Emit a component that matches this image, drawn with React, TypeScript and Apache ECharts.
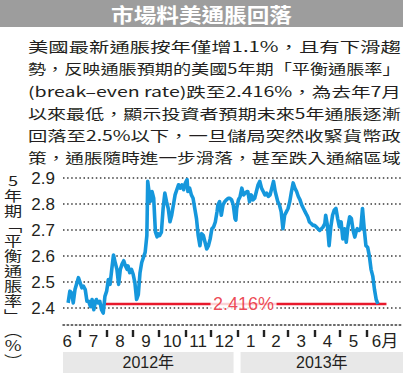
import React, { useEffect, useRef } from 'react';
import * as echarts from 'echarts';

const titleText = '市場料美通脹回落';
const bodyLines = [
  '美國最新通脹按年僅增1.1%，且有下滑趨',
  '勢，反映通脹預期的美國5年期「平衡通脹率」',
  '(break–even rate)跌至2.416%，為去年7月',
  '以來最低，顯示投資者預期未來5年通脹逐漸',
  '回落至2.5%以下，一旦儲局突然收緊貨幣政',
  '策，通脹隨時進一步滑落，甚至跌入通縮區域',
];
const yAxisTitle = ['5', '年', '期', '﹁', '平', '衡', '通', '脹', '率', '﹂', '︵', '%', '︶'];
const yTicks = [2.4, 2.5, 2.6, 2.7, 2.8, 2.9];
const monthLabels = ['6', '7', '8', '9', '10', '11', '12', '1', '2', '3', '4', '5', '6月'];
const monthStarts = [
  '2012-06-01', '2012-07-01', '2012-08-01', '2012-09-01', '2012-10-01', '2012-11-01', '2012-12-01',
  '2013-01-01', '2013-02-01', '2013-03-01', '2013-04-01', '2013-05-01', '2013-06-01', '2013-07-01',
];
const yearLabels = ['2012年', '2013年'];
const yearBoundary = '2013-01-01';
const xRange = ['2012-06-11', '2013-07-11'];
const yRange = [2.335, 2.9];

const dates = [
  '2012-06-17', '2012-06-19', '2012-06-21', '2012-06-23', '2012-06-25', '2012-06-29',
  '2012-07-01', '2012-07-03', '2012-07-05', '2012-07-07', '2012-07-09', '2012-07-11', '2012-07-13',
  '2012-07-15', '2012-07-17', '2012-07-19', '2012-07-20', '2012-07-22', '2012-07-24', '2012-07-26',
  '2012-07-28', '2012-07-30',
  '2012-08-01', '2012-08-03', '2012-08-05', '2012-08-07', '2012-08-09', '2012-08-11', '2012-08-13',
  '2012-08-15', '2012-08-17', '2012-08-19', '2012-08-21', '2012-08-23', '2012-08-25', '2012-08-26',
  '2012-08-28', '2012-08-30',
  '2012-09-01', '2012-09-03', '2012-09-05', '2012-09-07', '2012-09-09', '2012-09-11', '2012-09-13',
  '2012-09-15', '2012-09-17', '2012-09-18', '2012-09-21', '2012-09-23', '2012-09-25', '2012-09-27',
  '2012-09-29', '2012-09-30',
  '2012-10-02', '2012-10-04', '2012-10-06', '2012-10-08', '2012-10-10', '2012-10-12', '2012-10-14',
  '2012-10-16', '2012-10-18', '2012-10-20', '2012-10-22', '2012-10-24', '2012-10-26', '2012-10-28',
  '2012-10-30',
  '2012-11-01', '2012-11-03', '2012-11-04', '2012-11-06', '2012-11-08', '2012-11-10', '2012-11-12',
  '2012-11-14', '2012-11-16', '2012-11-18', '2012-11-20', '2012-11-22', '2012-11-24', '2012-11-26',
  '2012-11-28', '2012-11-30',
  '2012-12-02', '2012-12-04', '2012-12-06', '2012-12-08', '2012-12-09', '2012-12-11', '2012-12-13',
  '2012-12-15', '2012-12-17', '2012-12-19', '2012-12-21', '2012-12-23', '2012-12-25', '2012-12-27',
  '2012-12-29', '2012-12-30', '2012-12-31',
  '2013-01-02', '2013-01-04', '2013-01-06', '2013-01-08', '2013-01-10', '2013-01-12', '2013-01-13',
  '2013-01-15', '2013-01-17', '2013-01-19', '2013-01-21', '2013-01-23', '2013-01-25', '2013-01-27',
  '2013-01-29', '2013-01-31',
  '2013-02-02', '2013-02-04', '2013-02-06', '2013-02-08', '2013-02-10', '2013-02-12', '2013-02-14',
  '2013-02-16', '2013-02-17', '2013-02-19', '2013-02-21', '2013-02-23', '2013-02-25', '2013-02-27',
  '2013-03-01', '2013-03-03', '2013-03-05', '2013-03-07', '2013-03-09', '2013-03-11', '2013-03-13',
  '2013-03-15', '2013-03-17', '2013-03-19', '2013-03-21', '2013-03-23', '2013-03-24', '2013-03-26',
  '2013-03-28', '2013-03-30',
  '2013-04-01', '2013-04-03', '2013-04-05', '2013-04-07', '2013-04-09', '2013-04-11', '2013-04-13',
  '2013-04-14', '2013-04-16', '2013-04-18', '2013-04-20', '2013-04-22', '2013-04-24', '2013-04-26',
  '2013-04-28', '2013-04-30',
  '2013-05-02', '2013-05-04', '2013-05-06', '2013-05-08', '2013-05-10', '2013-05-12', '2013-05-14',
  '2013-05-16', '2013-05-18', '2013-05-20', '2013-05-21', '2013-05-23', '2013-05-25', '2013-05-27',
  '2013-05-29', '2013-05-31',
  '2013-06-02', '2013-06-04', '2013-06-06', '2013-06-08', '2013-06-10', '2013-06-12', '2013-06-14',
];
const values = [
  2.420, 2.465, 2.459, 2.420, 2.471, 2.517,
  2.498, 2.478, 2.484, 2.471, 2.426, 2.426, 2.406,
  2.433, 2.394, 2.426, 2.433, 2.420, 2.426, 2.394,
  2.381, 2.445,
  2.465, 2.510, 2.491, 2.549, 2.604, 2.575, 2.549,
  2.491, 2.549, 2.569, 2.582, 2.562, 2.549, 2.562,
  2.536, 2.549,
  2.530, 2.498, 2.433, 2.452, 2.536, 2.575, 2.595,
  2.614, 2.679, 2.887, 2.810, 2.848, 2.822, 2.693,
  2.674, 2.686,
  2.679, 2.692, 2.783, 2.842, 2.809, 2.783, 2.732,
  2.757, 2.796, 2.835, 2.855, 2.874, 2.861, 2.874,
  2.855,
  2.881, 2.894, 2.848, 2.861, 2.835, 2.822, 2.783,
  2.744, 2.679, 2.640, 2.686, 2.679, 2.653, 2.627,
  2.640, 2.666,
  2.705, 2.712, 2.731, 2.770, 2.796, 2.809, 2.757,
  2.796, 2.809, 2.816, 2.822, 2.822, 2.816, 2.796,
  2.744, 2.738, 2.783,
  2.816, 2.829, 2.861, 2.835, 2.842, 2.848, 2.848,
  2.809, 2.835, 2.816, 2.822, 2.848, 2.874, 2.887,
  2.861, 2.848,
  2.835, 2.842, 2.829, 2.835, 2.861, 2.887, 2.848,
  2.822, 2.809, 2.796, 2.770, 2.705, 2.757, 2.770,
  2.783, 2.809, 2.848, 2.881, 2.861, 2.848, 2.829,
  2.816, 2.796, 2.783, 2.770, 2.757, 2.751, 2.731,
  2.725, 2.718,
  2.718, 2.712, 2.705, 2.699, 2.705, 2.712, 2.725,
  2.757, 2.718, 2.640, 2.712, 2.757, 2.777, 2.783,
  2.744, 2.712,
  2.731, 2.666, 2.705, 2.653, 2.712, 2.751, 2.744,
  2.699, 2.673, 2.699, 2.705, 2.699, 2.705, 2.783,
  2.705, 2.640,
  2.634, 2.601, 2.549, 2.523, 2.472, 2.433, 2.416,
];

const thresholdValue = 2.416;
const thresholdText = '2.416%';
const thresholdSpan = ['2012-07-28', '2013-06-24'];
const thresholdLabelDate = '2013-01-08';

const BLUE = '#1597dc';
const RED = '#e8192c';
const INK = '#231f20';
const LATIN = '"Liberation Sans", Arial, "Noto Sans CJK TC", sans-serif';
const CJK = '"Noto Sans CJK TC", "Noto Sans CJK SC", sans-serif';

const ORIGIN = Date.UTC(2012, 6, 1);
function dayOf(s: string): number {
  const [y, m, d] = s.split('-').map(Number);
  return (Date.UTC(y, m - 1, d) - ORIGIN) / 86400000;
}

function measure(text: string, font: string): number {
  const c = document.createElement('canvas').getContext('2d');
  if (!c) return text.length * 14;
  c.font = font;
  return c.measureText(text).width;
}

export default function App() {
  const ref = useRef<HTMLDivElement>(null);

  useEffect(() => {
    const el = ref.current;
    if (!el) return;
    const chart = echarts.init(el, null, { renderer: 'svg' });

    const xMin = dayOf(xRange[0]);
    const xMax = dayOf(xRange[1]);
    const tickDays = monthStarts.slice(1, 13).map(dayOf);
    const labelDays = monthLabels.map((_, i) => (dayOf(monthStarts[i]) + dayOf(monthStarts[i + 1])) / 2);
    const labelMap = new Map<number, string>();
    labelDays.forEach((d, i) => labelMap.set(d, monthLabels[i]));

    const lineData = dates.map((d, i) => [dayOf(d), values[i]]);

    const dotted = { color: '#3a3a3a', width: 1.5, type: [1.5, 2.6] as any };

    chart.setOption({
      animation: false,
      backgroundColor: '#ffffff',
      grid: { left: 63, right: 2, top: 178, bottom: 48, containLabel: false },
      xAxis: [
        {
          type: 'value',
          min: xMin,
          max: xMax,
          axisLine: { show: true, lineStyle: dotted },
          axisTick: { show: false },
          axisLabel: { show: false },
          splitLine: { show: false },
        },
        {
          type: 'value',
          min: xMin,
          max: xMax,
          position: 'bottom',
          offset: 5,
          axisLine: { show: false },
          axisTick: {
            show: true,
            customValues: tickDays,
            length: 7,
            lineStyle: { color: '#222', width: 2.4 },
          },
          axisLabel: {
            show: true,
            customValues: labelDays,
            margin: 3,
            fontSize: 17,
            color: INK,
            fontFamily: LATIN,
            formatter: (v: number) => {
              const s = labelMap.get(v) ?? '';
              return /月/.test(s) ? '{s|' + s + '}' : s;
            },
            rich: {
              s: { fontSize: 17, color: INK, fontFamily: LATIN, padding: [0, 0, 0, 11] },
            },
          },
          splitLine: { show: false },
        },
      ],
      yAxis: {
        type: 'value',
        min: yRange[0],
        max: yRange[1],
        axisLine: { show: false },
        axisTick: { show: false, customValues: yTicks },
        axisLabel: {
          customValues: yTicks,
          margin: 8,
          fontSize: 17,
          color: INK,
          fontFamily: LATIN,
          formatter: (v: number) => v.toFixed(1),
        },
        splitLine: { show: true, lineStyle: dotted },
      },
      series: [
        {
          type: 'line',
          xAxisIndex: 0,
          data: thresholdSpan.map((d) => [dayOf(d), thresholdValue]),
          showSymbol: false,
          symbol: 'none',
          lineStyle: { color: RED, width: 2.5 },
          z: 3,
          silent: true,
        },
        {
          type: 'scatter',
          xAxisIndex: 0,
          data: [[dayOf(thresholdLabelDate), thresholdValue]],
          symbol: 'rect',
          symbolSize: [66, 12],
          itemStyle: { color: '#ffffff' },
          label: {
            show: true,
            position: 'inside',
            formatter: thresholdText,
            color: RED,
            fontSize: 18,
            fontFamily: LATIN,
          },
          z: 4,
          silent: true,
        },
        {
          type: 'line',
          xAxisIndex: 0,
          data: lineData,
          showSymbol: false,
          symbol: 'none',
          lineStyle: { color: BLUE, width: 3.6, join: 'round' },
          z: 5,
          silent: true,
        },
      ],
    });

    const W = 403;
    const gridLeft = 63;
    const xJan = chart.convertToPixel({ xAxisIndex: 0 }, dayOf(yearBoundary)) as number;
    const bands = [
      [gridLeft, xJan - 4],
      [xJan + 3, W],
    ];

    const bodyFont = 14;
    const bodyYs = [46, 68, 90.5, 113, 135, 157];
    const bodyLeft = 28;
    const bodyWidth = 373;

    const titleFont = 20;
    const titleW = measure(titleText, `bold ${titleFont}px ${CJK}`);

    const graphics: any[] = [
      {
        type: 'rect',
        shape: { x: 0, y: 0, width: W, height: 27 },
        style: { fill: '#9d9d9d' },
        silent: true,
      },
      {
        type: 'text',
        x: W / 2,
        y: 14,
        scaleX: 181 / titleW,
        style: {
          text: titleText,
          fill: '#ffffff',
          font: `bold ${titleFont}px ${CJK}`,
          textAlign: 'center',
          textVerticalAlign: 'middle',
        },
        silent: true,
      },
      ...bodyLines.map((line, i) => {
        const w = measure(line, `${bodyFont}px ${CJK}`);
        return {
          type: 'text',
          x: bodyLeft,
          y: bodyYs[i],
          scaleX: bodyWidth / w,
          style: {
            text: line,
            fill: INK,
            font: `${bodyFont}px ${CJK}`,
            textAlign: 'left',
            textVerticalAlign: 'middle',
          },
          silent: true,
        };
      }),
      {
        type: 'text',
        x: 13,
        y: 172,
        scaleX: 1.3,
        style: {
          text: yAxisTitle.join('\n'),
          fill: INK,
          font: `14px ${CJK}`,
          lineHeight: 15,
          textAlign: 'center',
          textVerticalAlign: 'top',
        },
        silent: true,
      },
      ...bands.map(([a, b]) => ({
        type: 'rect',
        shape: { x: a, y: 352, width: b - a, height: 21 },
        style: { fill: '#e8e8e8' },
        silent: true,
      })),
      ...bands.map(([a, b], i) => ({
        type: 'text',
        x: (a + b) / 2,
        y: 362.5,
        style: {
          text: yearLabels[i],
          fill: INK,
          font: `16px ${LATIN}`,
          textAlign: 'center',
          textVerticalAlign: 'middle',
        },
        silent: true,
      })),
    ];

    chart.setOption({ graphic: graphics });

    return () => chart.dispose();
  }, []);

  return (
    <div
      ref={ref}
      style={{ position: 'absolute', left: 0, top: 0, width: 403, height: 373 }}
    />
  );
}
